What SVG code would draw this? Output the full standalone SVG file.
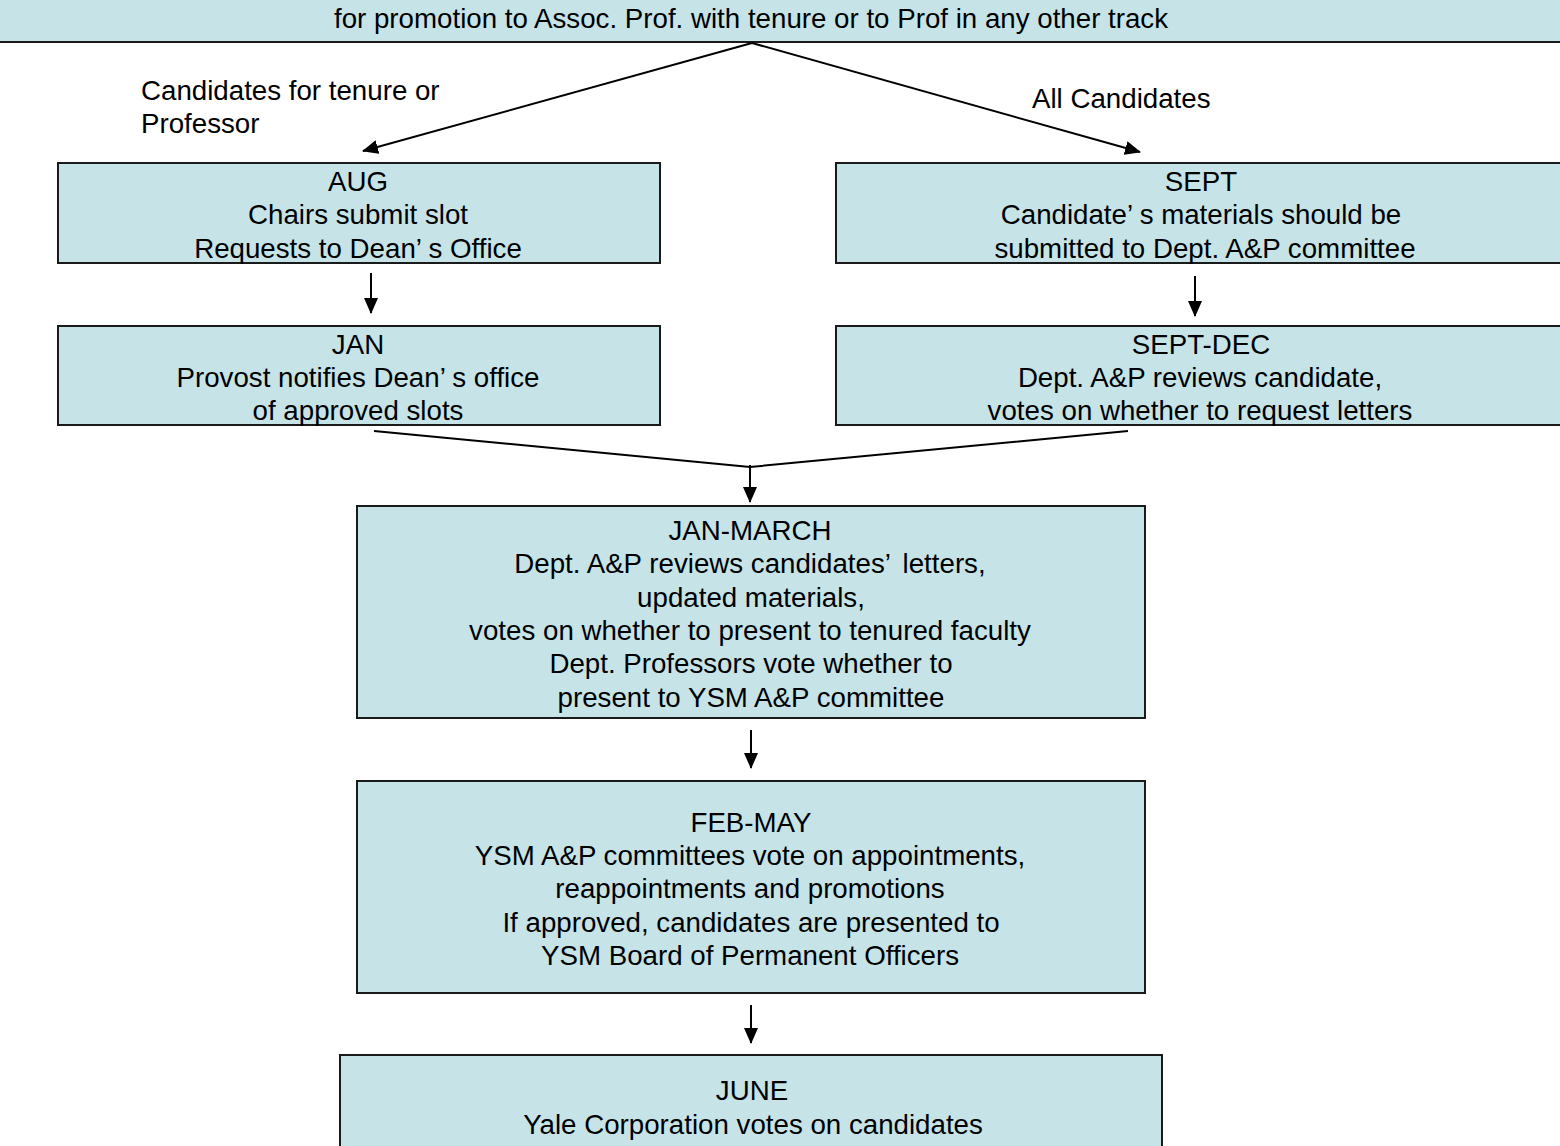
<svg xmlns="http://www.w3.org/2000/svg" width="1560" height="1146" viewBox="0 0 1560 1146">
<style>
.box{fill:#c6e4e8;stroke:#1a1a1a;stroke-width:2}
.t{font-family:"Liberation Sans",Arial,sans-serif;font-size:27.7px;fill:#000;text-anchor:middle}
.l{font-family:"Liberation Sans",Arial,sans-serif;font-size:27.7px;fill:#000}
.c{stroke:#000;stroke-width:2;fill:none}
</style>
<defs>
<marker id="ah" markerWidth="16" markerHeight="14" refX="15" refY="7" orient="auto" markerUnits="userSpaceOnUse">
<path d="M0,0 L16,7 L0,14 Z" fill="#000"/>
</marker>
</defs>
<rect width="1560" height="1146" fill="#fff"/>
<g id="top">
<rect class="box" x="-10" y="-20" width="1590" height="62"/>
<text class="t" x="751" y="28">for promotion to Assoc. Prof. with tenure or to Prof in any other track</text>
</g>
<g id="aug">
<rect class="box" x="58" y="163" width="602" height="100"/>
<text class="t" x="358" y="191">AUG</text>
<text class="t" x="358" y="224">Chairs submit slot</text>
<text class="t" x="358" y="258">Requests to Dean’<tspan dx="7">s</tspan> Office</text>
</g>
<g id="jan">
<rect class="box" x="58" y="326" width="602" height="99"/>
<text class="t" x="358" y="354">JAN</text>
<text class="t" x="358" y="387">Provost notifies Dean’<tspan dx="7">s</tspan> office</text>
<text class="t" x="358" y="420">of approved slots</text>
</g>
<g id="sept">
<rect class="box" x="836" y="163" width="740" height="100"/>
<text class="t" x="1201" y="191">SEPT</text>
<text class="t" x="1201" y="224">Candidate’<tspan dx="7">s</tspan> materials should be</text>
<text class="t" x="1205" y="258">submitted to Dept. A&amp;P committee</text>
</g>
<g id="septdec">
<rect class="box" x="836" y="326" width="740" height="99"/>
<text class="t" x="1201" y="354">SEPT-DEC</text>
<text class="t" x="1200" y="387">Dept. A&amp;P reviews candidate,</text>
<text class="t" x="1200" y="420">votes on whether to request letters</text>
</g>
<g id="janmarch">
<rect class="box" x="357" y="506" width="788" height="212"/>
<text class="t" x="750" y="540">JAN-MARCH</text>
<text class="t" x="750" y="573">Dept. A&amp;P reviews candidates’<tspan dx="5"> </tspan>letters,</text>
<text class="t" x="751" y="607">updated materials,</text>
<text class="t" x="750" y="640">votes on whether to present to tenured faculty</text>
<text class="t" x="751" y="673">Dept. Professors vote whether to</text>
<text class="t" x="751" y="707">present to YSM A&amp;P committee</text>
</g>
<g id="febmay">
<rect class="box" x="357" y="781" width="788" height="212"/>
<text class="t" x="751" y="832">FEB-MAY</text>
<text class="t" x="750" y="865">YSM A&amp;P committees vote on appointments,</text>
<text class="t" x="750" y="898">reappointments and promotions</text>
<text class="t" x="751" y="932">If approved, candidates are presented to</text>
<text class="t" x="750" y="965">YSM Board of Permanent Officers</text>
</g>
<g id="june">
<rect class="box" x="340" y="1055" width="822" height="110"/>
<text class="t" x="752" y="1100">JUNE</text>
<text class="t" x="753" y="1134">Yale Corporation votes on candidates</text>
</g>
<g id="labels">
<text class="l" x="141" y="100">Candidates for tenure or</text>
<text class="l" x="141" y="133">Professor</text>
<text class="l" x="1032" y="108">All Candidates</text>
</g>
<g id="connectors">
<line class="c" x1="752" y1="43" x2="363" y2="151" marker-end="url(#ah)"/>
<line class="c" x1="752" y1="43" x2="1140" y2="152" marker-end="url(#ah)"/>
<line class="c" x1="371" y1="273" x2="371" y2="313" marker-end="url(#ah)"/>
<line class="c" x1="1195" y1="276" x2="1195" y2="316" marker-end="url(#ah)"/>
<polyline class="c" points="374,431 750,467 1128,431"/>
<line class="c" x1="750" y1="465" x2="750" y2="502" marker-end="url(#ah)"/>
<line class="c" x1="751" y1="730" x2="751" y2="768" marker-end="url(#ah)"/>
<line class="c" x1="751" y1="1005" x2="751" y2="1043" marker-end="url(#ah)"/>
</g>
</svg>
